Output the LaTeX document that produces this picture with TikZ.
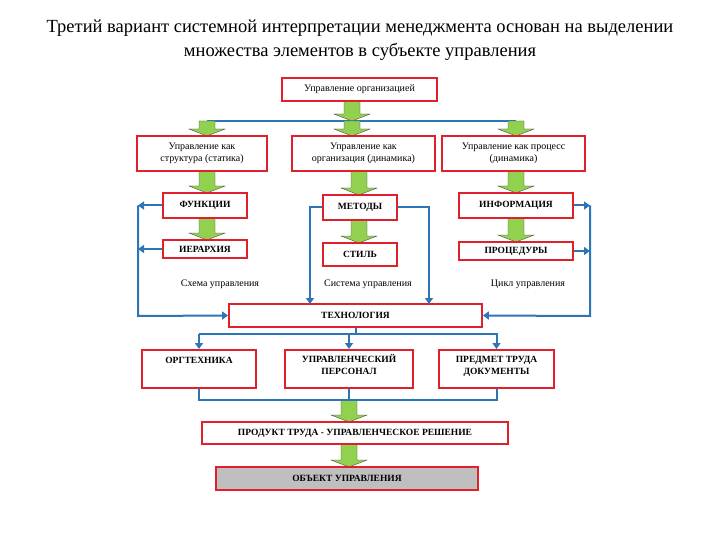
\documentclass[tikz,border=0pt]{standalone}
\usepackage{fontspec}
\setmainfont{Liberation Serif}
\usetikzlibrary{arrows.meta}
\definecolor{bred}{HTML}{E0202A}
\definecolor{bblue}{HTML}{2E75B6}
\definecolor{gfill}{HTML}{92D050}
\begin{document}
\begin{tikzpicture}[x=1pt,y=-1pt,
  box/.style={draw=bred,line width=1.8pt,fill=white,inner sep=1pt,align=center,font=\fontsize{10}{12}\selectfont},
  bbox/.style={box,font=\fontsize{9.5}{12}\selectfont\bfseries},
  blue/.style={draw=bblue,line width=2pt},
  barr/.style={blue,-{Triangle[length=6pt,width=8pt]}},
  lbl/.style={font=\fontsize{10}{12}\selectfont}]
\useasboundingbox (0,0) rectangle (720,540);
\newcommand\garrow[3]{% x, y1, y2
  \filldraw[fill=gfill,draw=black!70,line width=0.4pt]
   (#1-8,#2) -- (#1+8,#2) -- (#1+8,#3-7) -- (#1+18,#3-7) -- (#1,#3) -- (#1-18,#3-7) -- (#1-8,#3-7) -- cycle;}
\node[font=\fontsize{18.5}{24}\selectfont,align=center] (title) at (360,40) {Третий вариант системной интерпретации менеджмента основан на выделении\\множества элементов в субъекте управления};
\draw[blue] (207,121) -- (516,121);
\garrow{352}{101}{121}
\garrow{207}{121}{136}\garrow{352}{121}{136}\garrow{516}{121}{136}
\garrow{207}{171}{193}\garrow{359}{171}{195}\garrow{516}{171}{193}
\garrow{207}{218}{240}\garrow{359}{220}{243}\garrow{516}{218}{242}
\garrow{349}{400}{422}\garrow{349}{444}{467}
\node[box,minimum width=155,minimum height=23] (top) at (359.5,89.5) {Управление организацией};
\node[box,minimum width=130,minimum height=35] (s1) at (202,153.5) {Управление как\\структура (статика)};
\node[box,minimum width=143,minimum height=35] (s2) at (363.5,153.5) {Управление как\\организация (динамика)};
\node[box,minimum width=143,minimum height=35] (s3) at (513.5,153.5) {Управление как процесс\\(динамика)};
\node[bbox,minimum width=84,minimum height=25] (f) at (205,205.5) {ФУНКЦИИ};
\node[bbox,minimum width=74,minimum height=25] (m) at (360,207.5) {МЕТОДЫ};
\node[bbox,minimum width=114,minimum height=25] (i) at (516,205.5) {ИНФОРМАЦИЯ};
\node[bbox,minimum width=84,minimum height=18] (h) at (205,249) {ИЕРАРХИЯ};
\node[bbox,minimum width=74,minimum height=23] (st) at (360,254.5) {СТИЛЬ};
\node[bbox,minimum width=114,minimum height=18] (p) at (516,251) {ПРОЦЕДУРЫ};
\node[lbl] (l1) at (220,284) {Схема управления};
\node[lbl] (l2) at (368,284) {Система управления};
\node[lbl] (l3) at (528,284) {Цикл управления};
\node[bbox,minimum width=253,minimum height=23] (t) at (355.5,315.5) {ТЕХНОЛОГИЯ};
\node[bbox,minimum width=114,minimum height=38,anchor=north,text depth=18pt] (o1) at (199,349) {ОРГТЕХНИКА};
\node[bbox,minimum width=128,minimum height=38,anchor=north,text depth=8pt] (o2) at (349,349) {УПРАВЛЕНЧЕСКИЙ\\ПЕРСОНАЛ};
\node[bbox,minimum width=115,minimum height=38,anchor=north,text depth=8pt] (o3) at (496.5,349) {ПРЕДМЕТ ТРУДА\\ДОКУМЕНТЫ};
\node[bbox,minimum width=306,minimum height=22] (pr) at (355,433) {ПРОДУКТ ТРУДА - УПРАВЛЕНЧЕСКОЕ РЕШЕНИЕ};
\node[bbox,fill=black!25,minimum width=262,minimum height=23] (ob) at (347,478.5) {ОБЪЕКТ УПРАВЛЕНИЯ};
\coordinate (L) at (138,316);
\coordinate (R) at (590,316);
\draw[barr] (f.west) -- (138,205.5);
\draw[barr] (h.west) -- (138,249);
\draw[barr] (138,205.5) -- (L) -- (t.west);
\draw[barr] (i.east) -- (590,205.5);
\draw[barr] (p.east) -- (590,251);
\draw[barr] (590,205.5) -- (R) -- (t.east);
\draw[barr] (m.west) -- (310,207.5) -- (310,304);
\draw[barr] (m.east) -- (429,207.5) -- (429,304);
\draw[blue] (t.south) -- (355.5,334);
\draw[blue] (199,334) -- (498,334);
\draw[barr] (199,334) -- (o1.north);
\draw[barr] (349,334) -- (o2.north);
\draw[barr] (496.5,334) -- (o3.north);
\draw[blue] (o1.south) -- (199,400) -- (496.5,400) -- (o3.south);
\draw[blue] (o2.south) -- (349,400);
\end{tikzpicture}
\end{document}
